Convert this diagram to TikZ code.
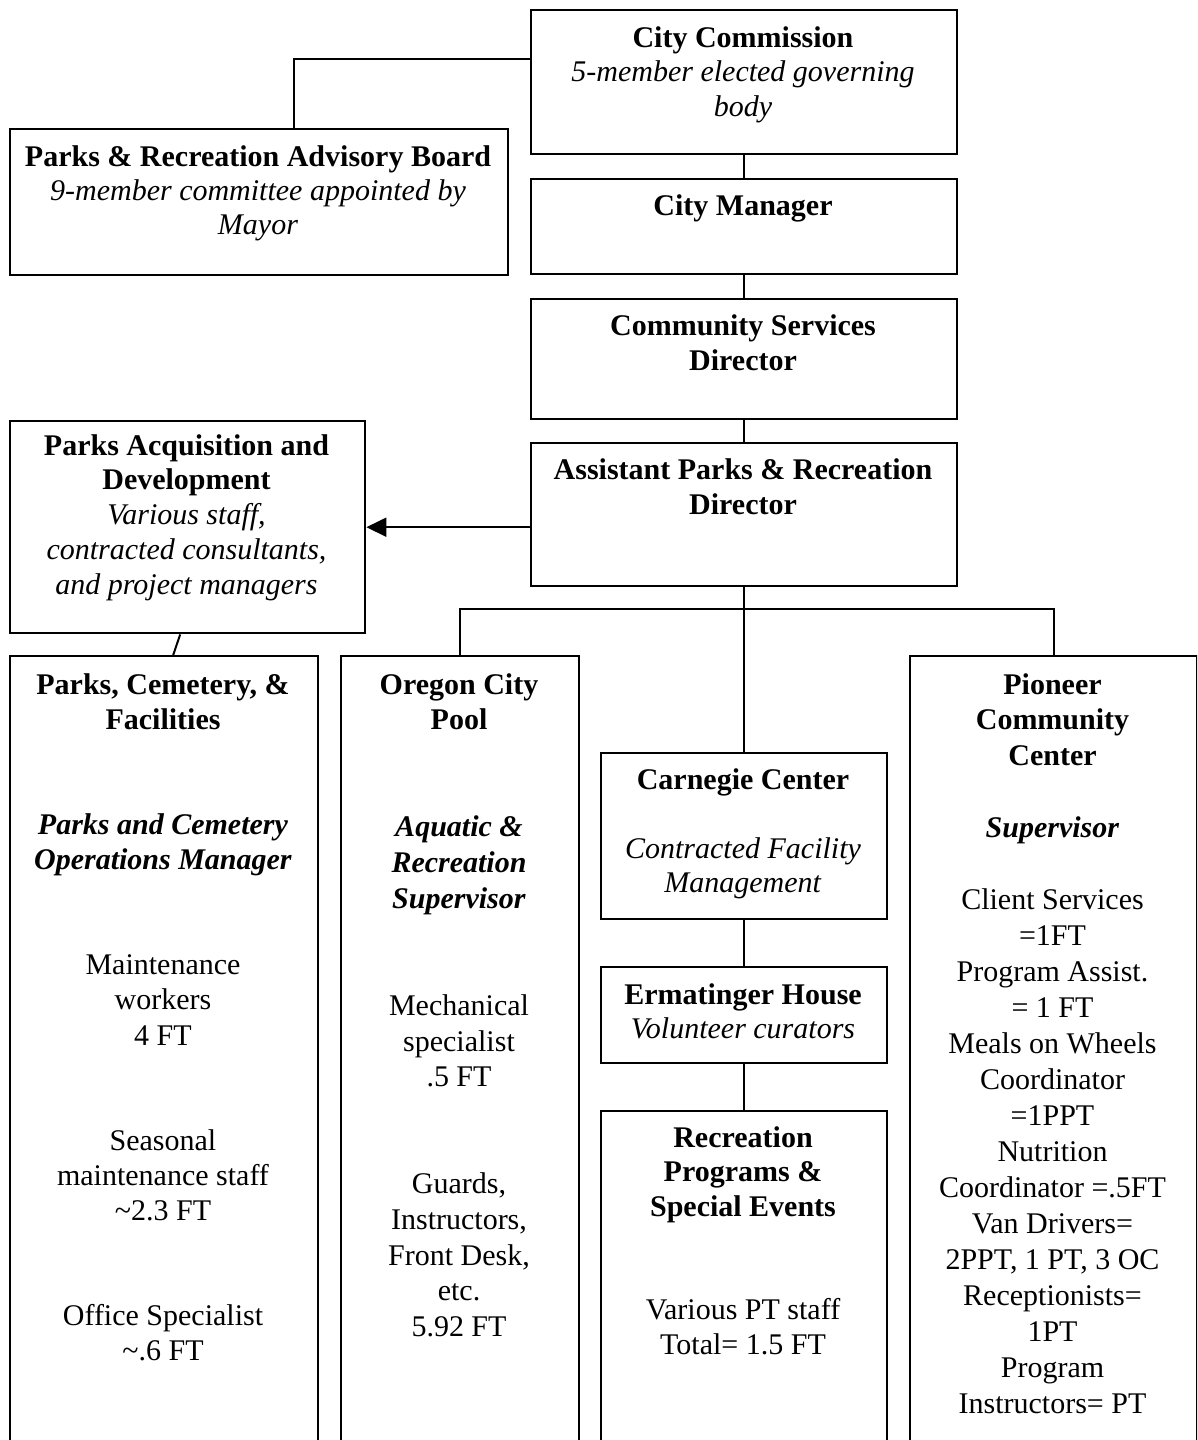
\documentclass[tikz,border=0pt]{standalone}
\usepackage{fontspec}
\setmainfont{Liberation Serif}
\usetikzlibrary{arrows.meta}
\newcommand\tb[2]{\fontsize{30}{#1}\selectfont\begin{tabular}[t]{@{}c@{}}#2\end{tabular}}
\newcommand\bi[1]{\textbf{\textit{#1}}}
\begin{document}
\begin{tikzpicture}[x=1pt,y=-1pt,
  box/.style={draw, line width=2.4pt, inner sep=0pt, anchor=north west},
  txt/.style={inner sep=0pt, anchor=base},
  con/.style={line width=2pt}]
\useasboundingbox (0,0) rectangle (1197,1440);
\clip (0,0) rectangle (1197,1440);
\fill[white] (0,0) rectangle (1197,1440);
% boxes
\node[box, minimum width=426pt, minimum height=144pt] (cc) at (530,9) {};
\node[box, minimum width=498pt, minimum height=146pt] (adv) at (9,128) {};
\node[box, minimum width=426pt, minimum height=95pt] (cm) at (530,178) {};
\node[box, minimum width=426pt, minimum height=120pt] (csd) at (530,298) {};
\node[box, minimum width=426pt, minimum height=143pt] (apd) at (530,442) {};
\node[box, minimum width=355pt, minimum height=212pt] (pad) at (9,420) {};
\node[box, minimum width=308pt, minimum height=800pt] (pcf) at (9,655) {};
\node[box, minimum width=238pt, minimum height=800pt] (ocp) at (340,655) {};
\node[box, minimum width=286pt, minimum height=166pt] (car) at (600,752) {};
\node[box, minimum width=286pt, minimum height=96pt] (erm) at (600,966) {};
\node[box, minimum width=286pt, minimum height=345pt] (rec) at (600,1110) {};
\node[box, minimum width=287pt, minimum height=800pt] (pio) at (909,655) {};
% texts
\node[txt] (cct) at (743,47) {\tb{34.5}{\textbf{City Commission}\\ \textit{5-member elected governing}\\ \textit{body}}};
\node[txt] (advt) at (258,166) {\tb{34}{\textbf{Parks \& Recreation Advisory Board}\\ \textit{9-member committee appointed by}\\ \textit{Mayor}}};
\node[txt] (cmt) at (743,215) {\tb{35}{\textbf{City Manager}}};
\node[txt] (csdt) at (743,335) {\tb{35}{\textbf{Community Services}\\ \textbf{Director}}};
\node[txt] (apdt) at (743,479) {\tb{35}{\textbf{Assistant Parks \& Recreation}\\ \textbf{Director}}};
\node[txt] (padt) at (186.5,455) {\tb{34.8}{\textbf{Parks Acquisition and}\\ \textbf{Development}\\ \textit{Various staff,}\\ \textit{contracted consultants,}\\ \textit{and project managers}}};
\node[txt] (pcft) at (163,694) {\tb{35.1}{\textbf{Parks, Cemetery, \&}\\ \textbf{Facilities}\\ \\ \\ \bi{Parks and Cemetery}\\ \bi{Operations Manager}\\ \\ \\ Maintenance\\ workers\\ 4 FT\\ \\ \\ Seasonal\\ maintenance staff\\ \textasciitilde2.3 FT\\ \\ \\ Office Specialist\\ \textasciitilde.6 FT}};
\node[txt] (ocpt) at (459,694) {\tb{35.7}{\textbf{Oregon City}\\ \textbf{Pool}\\ \\ \\ \bi{Aquatic \&}\\ \bi{Recreation}\\ \bi{Supervisor}\\ \\ \\ Mechanical\\ specialist\\ .5 FT\\ \\ \\ Guards,\\ Instructors,\\ Front Desk,\\ etc.\\ 5.92 FT}};
\node[txt] (cart) at (743,789) {\tb{34.5}{\textbf{Carnegie Center}\\ \\ \textit{Contracted Facility}\\ \textit{Management}}};
\node[txt] (ermt) at (743,1004) {\tb{34}{\textbf{Ermatinger House}\\ \textit{Volunteer curators}}};
\node[txt] (rect) at (743,1147) {\tb{34.5}{\textbf{Recreation}\\ \textbf{Programs \&}\\ \textbf{Special Events}\\ \\ \\ Various PT staff\\ Total= 1.5 FT}};
\node[txt] (piot) at (1052.5,694) {\tb{35.95}{\textbf{Pioneer}\\ \textbf{Community}\\ \textbf{Center}\\ \\ \bi{Supervisor}\\ \\ Client Services\\ =1FT\\ Program Assist.\\ = 1 FT\\ Meals on Wheels\\ Coordinator\\ =1PPT\\ Nutrition\\ Coordinator =.5FT\\ Van Drivers=\\ 2PPT, 1 PT, 3 OC\\ Receptionists=\\ 1PT\\ Program\\ Instructors= PT}};
% connectors
\draw[con] ([yshift=-50pt]cc.north west) -| ([xshift=35pt]adv.north);
\draw[con] (cc.south) -- (cm.north);
\draw[con] (cm.south) -- (csd.north);
\draw[con] (csd.south) -- (apd.north);
\draw[con, -{Triangle[length=20pt,width=19pt]}] (apd.west |- pad.east) -- (pad.east);
\coordinate (bus) at ([yshift=-22pt]apd.south);
\draw[con] (apd.south) -- (bus);
\draw[con] (ocp.north) |- (bus) -| (pio.north);
\draw[con] (bus) -- (bus |- car.north);
\draw[con] (car.south) -- (erm.north);
\draw[con] (erm.south) -- (rec.north);
\draw[con] ([xshift=-7.5pt]pad.south) -- ([xshift=9pt]pcf.north);
\end{tikzpicture}
\end{document}
